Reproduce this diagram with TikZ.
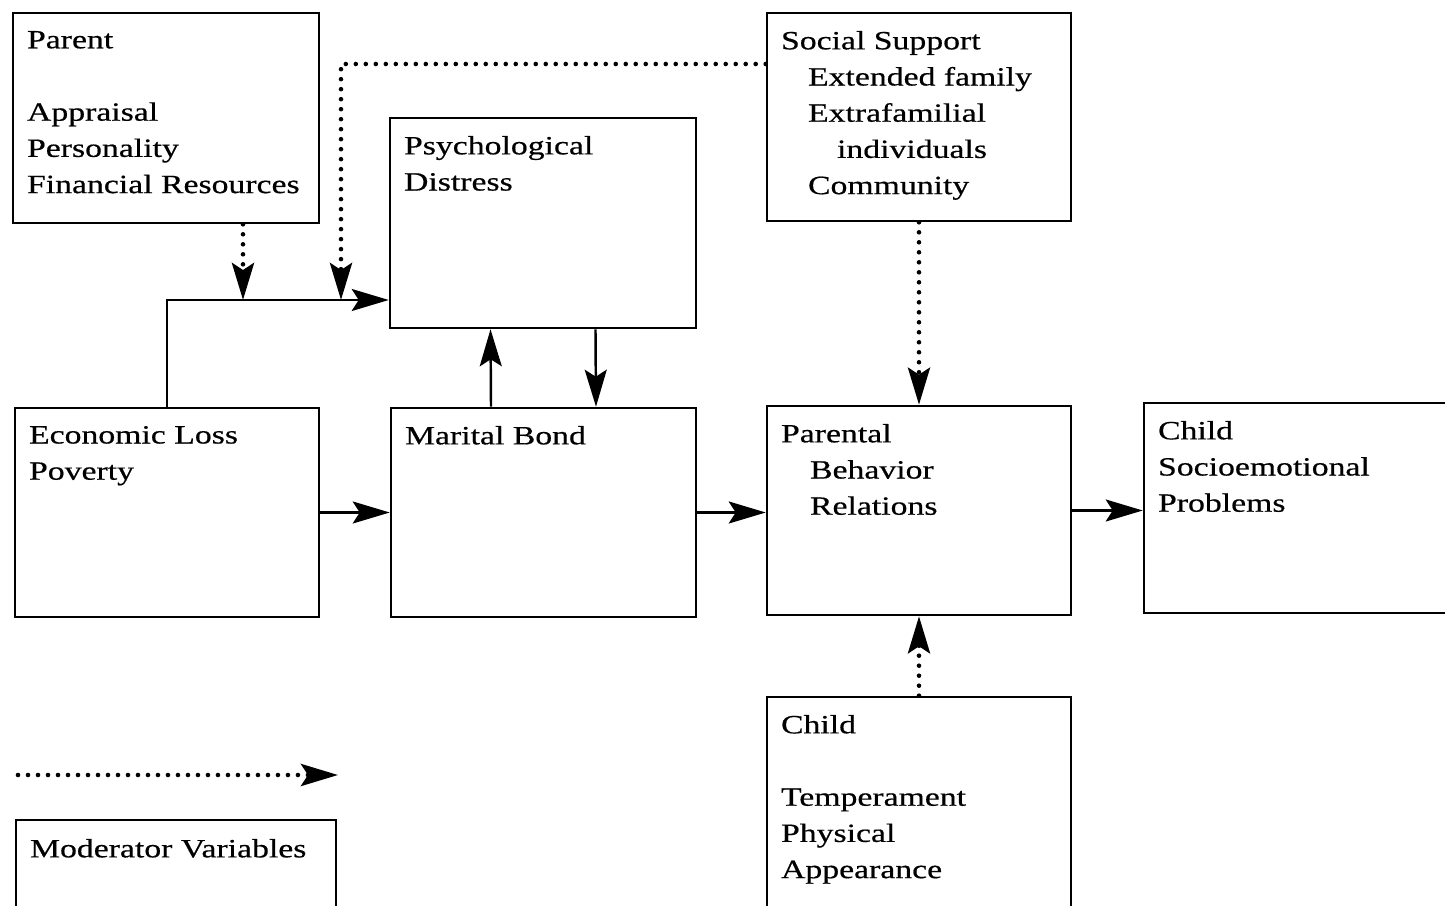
\documentclass[tikz,border=0pt]{standalone}
\usepackage{fontspec}
\setmainfont{Liberation Serif}[FakeStretch=1.28, FakeBold=0.5]
\usetikzlibrary{arrows.meta,calc}
\tikzset{
	box/.style 2 args={draw, line width=1.5pt, minimum width=#1, minimum height=#2, inner sep=0pt},
	txt/.style={anchor=north west, align=left, inner sep=0pt, xshift=0.3cm, yshift=-0.38cm, font=\fontsize{15}{20.6}\selectfont},
	conn/.style={line width=1.4pt, -{Stealth[length=0.74cm, width=0.44cm, inset=0.14cm]}},
	moder/.style={conn, line cap=round, dash pattern=on 0pt off 0.2cm, line width=2.6pt}
}
\begin{document}
\begin{tikzpicture}[x=0.02cm, y=-0.02cm]
		%%%%% START %%%%%
		\clip (0,0) rectangle (1445,906);
		\fill[white] (0,0) rectangle (1445,906);
		
		% boxes
		\node[box={6.12cm}{4.2cm}] (parent) at (166,118) {};
		\node[box={6.08cm}{4.16cm}] (social) at (919,117) {};
		\node[box={6.12cm}{4.2cm}] (distress) at (543,223) {};
		\node[box={6.08cm}{4.18cm}] (econ) at (167,512.5) {};
		\node[box={6.1cm}{4.18cm}] (marital) at (543.5,512.5) {};
		\node[box={6.08cm}{4.18cm}] (parental) at (919,510.5) {};
		\node[box={6.12cm}{4.2cm}] (childprob) at (1297,508) {};
		\node[box={6.08cm}{4.26cm}] (child) at (919,803.5) {};
		\node[box={6.4cm}{1.8cm}] (moderator) at (176,865) {};
		
		% texts
		\node[txt] (parentlbl) at (parent.north west) {Parent\\[20.6pt]Appraisal\\Personality\\Financial Resources};
		\node[txt] (sociallbl) at (social.north west) {Social Support\\\hspace*{0.54cm}Extended family\\\hspace*{0.54cm}Extrafamilial\\\hspace*{1.12cm}individuals\\\hspace*{0.54cm}Community};
		\node[txt] (distresslbl) at (distress.north west) {Psychological\\Distress};
		\node[txt] (econlbl) at (econ.north west) {Economic Loss\\Poverty};
		\node[txt] (maritallbl) at (marital.north west) {Marital Bond};
		\node[txt] (parentallbl) at (parental.north west) {Parental\\\hspace*{0.58cm}Behavior\\\hspace*{0.58cm}Relations};
		\node[txt] (childproblbl) at (childprob.north west) {Child\\Socioemotional\\Problems};
		\node[txt] (childlbl) at (child.north west) {Child\\[20.6pt]Temperament\\Physical\\Appearance};
		\node[txt, yshift=-0.02cm] (moderatorlbl) at (moderator.north west) {Moderator Variables};
		
		% junctions
		\coordinate (jn) at (243,300);
		\coordinate (ss) at (341,300);
		\coordinate (sstop) at (341,64);
		\coordinate (lgA) at (18,775);
		\coordinate (lgB) at (338,775);
		
		% solid paths
		\draw[conn] (econ.north) |- (distress.west |- jn);
		\draw[conn] ([xshift=-1.05cm]marital.north) -- ([xshift=-1.05cm]distress.south);
		\draw[conn] ([xshift=1.05cm]distress.south) -- ([xshift=1.05cm]marital.north);
		\draw[conn] (econ.east) -- (marital.west);
		\draw[conn] (marital.east) -- (marital.east -| parental.west);
		\draw[conn] (parental.east) -- (parental.east -| childprob.west);
		
		% moderators
		\draw[moder] (parent.south -| jn) -- (jn);
		\draw[moder] (social.west |- sstop) -- (sstop) -- (ss);
		\draw[moder] (social.south) -- (parental.north);
		\draw[moder] (child.north) -- (parental.south);
		\draw[moder] (lgA) -- (lgB);
		
		%%%%% END %%%%%
	\end{tikzpicture}
\end{document}
